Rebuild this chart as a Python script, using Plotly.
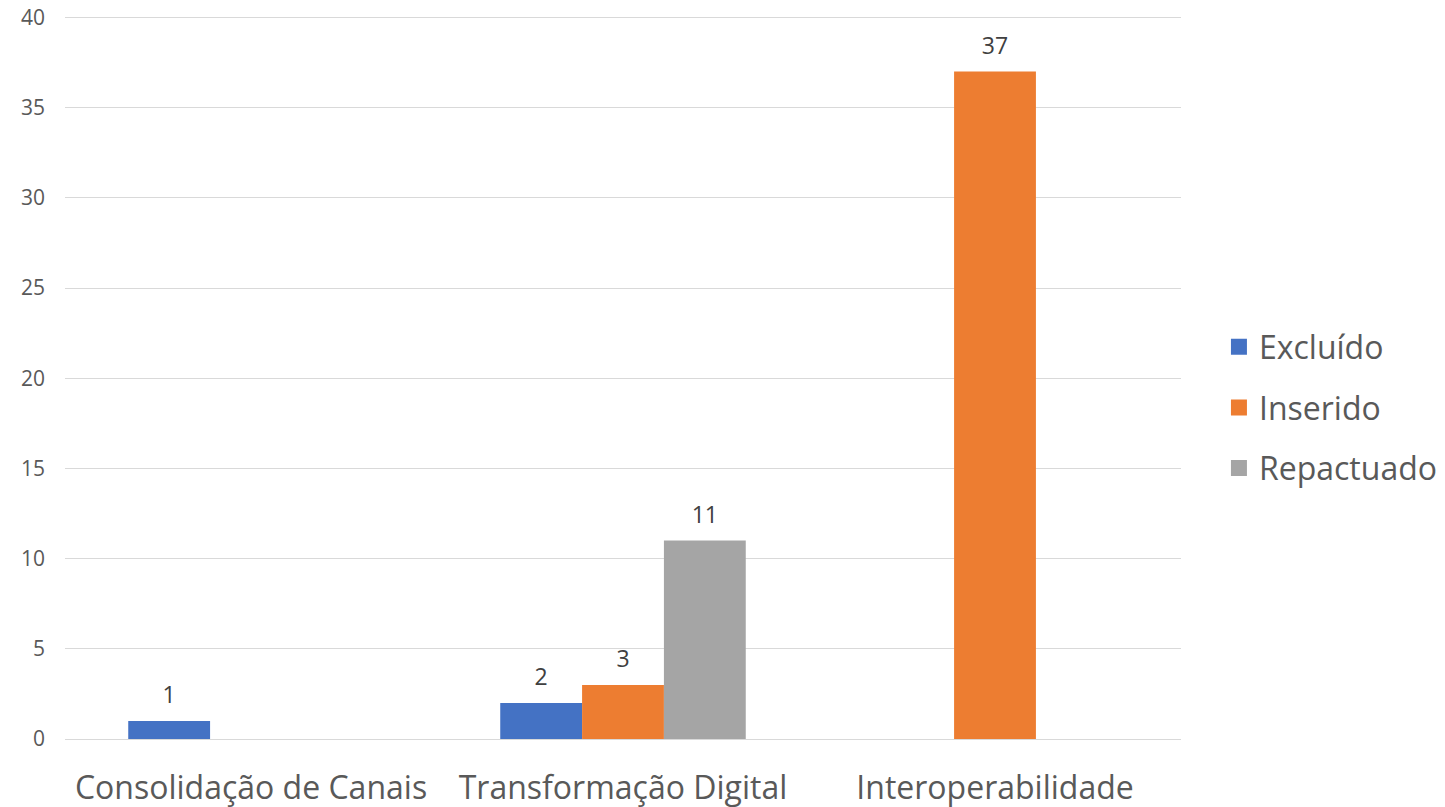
import plotly.graph_objects as go

categories = ["Consolidação de Canais", "Transformação Digital", "Interoperabilidade"]
excluido = [1, 2, None]
inserido = [None, 3, 37]
repactuado = [None, 11, None]
series_names = ["Excluído", "Inserido", "Repactuado"]
colors = ["#4472C4", "#ED7D31", "#A5A5A5"]
y_ticks = [0, 5, 10, 15, 20, 25, 30, 35, 40]

FONT = "Open Sans"
fig = go.Figure()
for name, vals, col in zip(series_names, [excluido, inserido, repactuado], colors):
    fig.add_trace(go.Bar(
        x=categories, y=vals, name=name, offsetgroup=name,
        marker=dict(color=col, line=dict(width=0)),
        showlegend=False, hoverinfo="x+y+name",
    ))
for name, vals, col in zip(series_names, [excluido, inserido, repactuado], colors):
    fig.add_trace(go.Scatter(
        x=categories, y=vals, name=name, offsetgroup=name,
        mode="markers+text",
        marker=dict(size=18, opacity=0),
        text=[("" if v is None else str(v)) for v in vals],
        textposition="top center",
        textfont=dict(family=FONT, size=23, color="#404040"),
        cliponaxis=False, showlegend=False, hoverinfo="skip",
    ))
for name, col in zip(series_names, colors):
    fig.add_trace(go.Scatter(
        x=[None], y=[None], name=name, offsetgroup=name, legendgroup=name,
        mode="markers", marker=dict(symbol="square", size=16, color=col),
        showlegend=True,
    ))

fig.update_layout(
    width=1445, height=807,
    paper_bgcolor="white", plot_bgcolor="white",
    margin=dict(l=57, r=272, t=4, b=76),
    barmode="group", bargap=0.34, bargroupgap=0,
    scattermode="group", scattergap=0.34,
    font=dict(family=FONT, color="#595959"),
    legend=dict(
        x=1.034, y=0.456, xanchor="left", yanchor="middle",
        font=dict(family=FONT, size=32, color="#595959"),
        tracegroupgap=16, traceorder="grouped",
    ),
)
fig.update_xaxes(
    showgrid=False, showline=False, ticks="", automargin=False,
    tickfont=dict(family=FONT, size=32, color="#595959"),
    ticklabelstandoff=27,
)
fig.update_yaxes(
    range=[0, 40.3], tickvals=y_ticks, showgrid=True, gridcolor="#D9D9D9", gridwidth=1.3,
    zeroline=True, zerolinecolor="#D9D9D9", zerolinewidth=1.3, automargin=False,
    showline=False, ticks="", ticklabelstandoff=19, ticklabeloverflow="allow",
    tickfont=dict(family=FONT, size=21, color="#595959"),
)

fig.write_html("out.html")
